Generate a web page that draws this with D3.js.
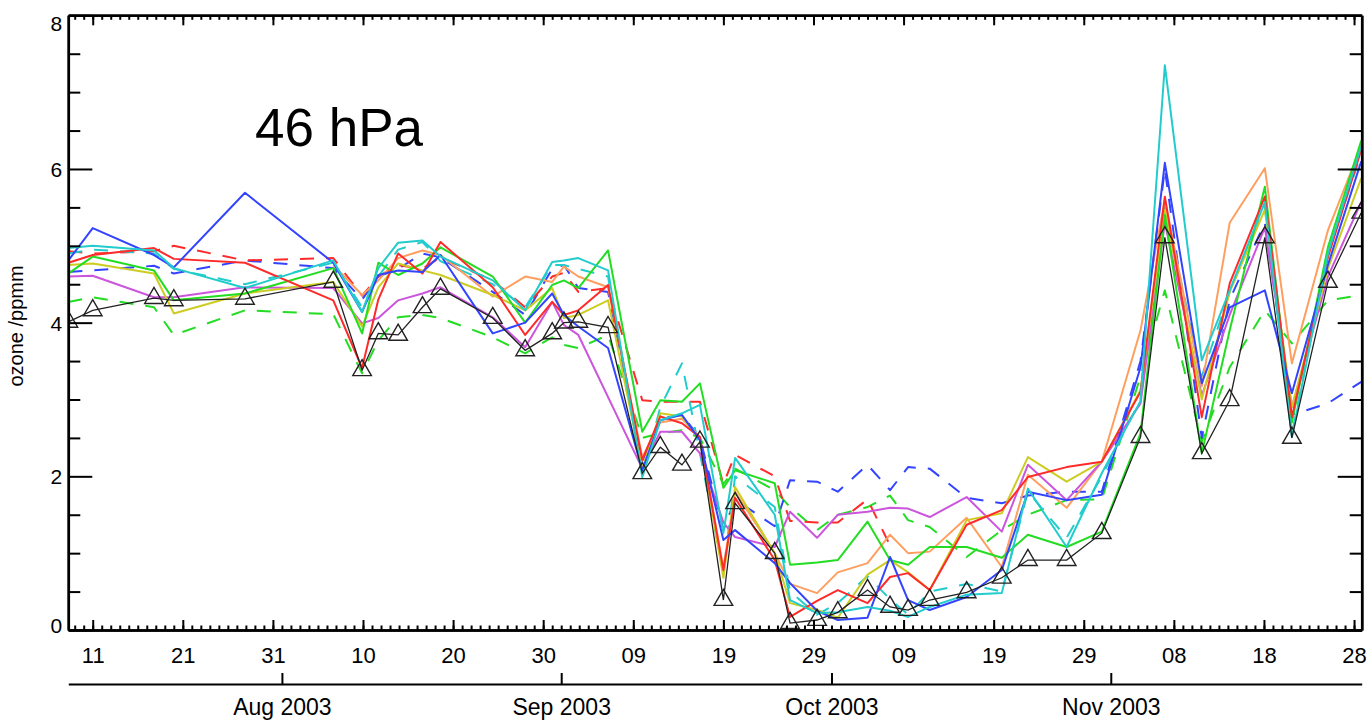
<!DOCTYPE html>
<html>
<head>
<meta charset="utf-8">
<script src="https://cdn.jsdelivr.net/npm/d3@7"></script>
<style>
  html, body { margin: 0; padding: 0; background: #fff; }
  svg { display: block; font-family: "Liberation Sans", Arial, Helvetica, sans-serif; }
</style>
</head>
<body>
<svg id="chart" width="1370" height="720"></svg>
<script>
// ---- data (day of year 2003, ozone in ppmm) ----
const days = [189.3, 192.0, 198.8, 201.0, 208.9, 218.7, 221.9, 223.7, 225.9, 228.6,
              230.6, 236.4, 240.0, 243.0, 244.3, 245.9, 249.2, 253.0, 255.0, 257.4,
              259.4, 262.0, 263.3, 267.7, 269.4, 272.4, 274.7, 278.0, 280.5, 282.5,
              284.9, 289.0, 292.9, 295.8, 300.1, 304.0, 308.3, 311.0, 315.1, 318.2,
              322.1, 325.1, 329.1, 332.8];

const sonde = [4.01, 4.16, 4.32, 4.29, 4.31, 4.53, 3.38, 3.86, 3.84, 4.20,
               4.44, 4.06, 3.64, 3.86, 4.00, 4.01, 3.94, 2.04, 2.38, 2.15,
               2.45, 0.39, 1.65, 1.00, 0.09, 0.13, 0.23, 0.52, 0.30, 0.26,
               0.39, 0.49, 0.68, 0.91, 0.91, 1.26, 2.51, 5.11, 2.30, 2.99,
               5.11, 2.50, 4.53, 5.43];

const redSolid = [4.78, 4.88, 4.97, 4.83, 4.78, 4.29, 3.41, 4.30, 4.90, 4.64,
                  5.05, 4.46, 3.84, 4.27, 4.10, 4.16, 4.49, 2.21, 2.78, 2.69,
                  2.51, 0.78, 1.72, 0.91, 0.17, 0.38, 0.52, 0.35, 0.69, 0.74,
                  0.52, 1.37, 1.56, 1.99, 2.12, 2.19, 3.10, 5.64, 2.77, 4.51,
                  5.64, 2.77, 4.85, 6.25];

const blueSolid = [4.81, 5.23, 4.88, 4.72, 5.69, 4.78, 4.14, 4.62, 4.68, 4.66,
                   4.88, 3.86, 4.00, 4.38, 4.10, 3.95, 3.67, 2.08, 2.73, 2.80,
                   2.47, 1.17, 1.30, 0.87, 0.61, 0.25, 0.13, 0.16, 0.95, 0.39,
                   0.26, 0.43, 0.78, 1.80, 1.69, 1.76, 3.42, 6.08, 3.21, 4.20,
                   4.42, 3.08, 4.75, 6.10];

const cyanSolid = [4.97, 5.00, 4.94, 4.71, 4.45, 4.81, 4.14, 4.71, 5.04, 5.07,
                   4.86, 4.55, 4.16, 4.79, 4.81, 4.84, 4.68, 1.99, 2.73, 2.82,
                   2.93, 1.26, 2.24, 1.50, 0.39, 0.22, 0.23, 0.30, 0.25, 0.17,
                   0.30, 0.46, 0.48, 1.84, 1.08, 2.04, 2.98, 7.35, 3.51, 4.42,
                   5.57, 2.51, 4.90, 6.30];

const greenSolid = [4.64, 4.86, 4.68, 4.29, 4.38, 4.71, 3.86, 4.78, 4.62, 4.77,
                    4.98, 4.60, 4.00, 4.49, 4.55, 4.45, 4.94, 2.58, 2.99, 2.97,
                    3.21, 1.85, 2.08, 1.91, 0.85, 0.88, 0.91, 1.41, 0.91, 0.85,
                    1.08, 1.08, 0.94, 1.24, 1.08, 1.28, 2.56, 5.40, 2.30, 3.90,
                    5.77, 2.70, 4.98, 6.37];

const yellowSolid = [4.75, 4.77, 4.64, 4.12, 4.38, 4.53, 3.95, 4.46, 4.77, 4.68,
                     4.62, 4.36, 4.16, 4.45, 4.06, 4.10, 4.29, 2.10, 2.82, 2.78,
                     2.47, 0.68, 1.86, 1.00, 0.35, 0.26, 0.16, 0.72, 0.91, 0.75,
                     0.52, 1.43, 1.52, 2.25, 1.93, 2.19, 3.12, 5.47, 3.00, 4.40,
                     5.47, 2.90, 4.70, 5.88];

const magentaSolid = [4.60, 4.61, 4.33, 4.33, 4.46, 4.45, 3.99, 4.06, 4.29, 4.38,
                      4.46, 4.07, 3.68, 4.27, 3.97, 3.84, null, 2.10, 2.58, 2.58,
                      2.30, 1.40, 1.21, 1.08, 1.54, 1.20, 1.50, 1.54, 1.59, 1.58,
                      1.47, 1.73, 1.28, 2.15, 1.69, 2.19, 2.95, 5.30, 3.05, 4.10,
                      5.24, 2.90, 4.60, 5.57];

const orangeSolid = [null, null, null, null, null, 4.75, 4.36, 4.55, 4.84, 4.94,
                     4.88, 4.34, 4.60, 4.53, 4.73, 4.60, 4.46, 2.25, 2.70, 2.75,
                     2.51, 0.80, 1.80, 1.00, 0.60, 0.48, 0.75, 0.87, 1.24, 1.00,
                     1.02, 1.46, 0.82, 2.02, 1.59, 2.19, 3.90, 5.60, 3.17, 5.30,
                     6.01, 3.47, 5.20, 6.30];

const greenDashed = [4.27, 4.33, 4.20, 3.84, 4.16, 4.11, 3.34, 3.77, 4.07, 4.10,
                     4.06, 3.81, 3.60, 3.81, 3.71, 3.67, 3.84, 2.50, 2.56, 2.60,
                     2.50, 1.90, 2.10, 1.82, 1.60, 1.30, 1.50, 1.60, 1.75, 1.43,
                     1.34, 0.95, 1.30, 1.50, 1.69, 1.70, 3.30, 4.42, 2.45, 3.42,
                     4.16, 3.73, 4.29, 4.36];

const blueDashed = [4.66, 4.68, 4.74, 4.64, 4.81, 4.71, 4.30, 4.60, 4.70, 4.90,
                    4.85, 4.40, 4.10, 4.70, 4.75, 4.45, 4.40, 2.20, 2.75, 2.80,
                    2.50, 1.30, 1.70, 1.35, 1.95, 1.93, 1.80, 2.15, 1.82, 2.12,
                    2.10, 1.72, 1.65, 1.75, 1.80, 1.80, 3.50, 6.00, 2.50, 4.30,
                    5.30, 2.80, 2.95, 3.23];

const redDashed = [4.93, 4.90, 4.93, 5.00, 4.81, 4.84, 4.35, 4.60, 4.75, 4.70,
                   4.85, 4.55, 4.20, 4.60, 4.65, 4.40, 4.45, 2.99, 2.97, 2.97,
                   2.97, 1.90, 2.28, 2.00, 1.42, 1.40, 1.40, 1.70, 1.10, null,
                   null, null, null, null, null, null, null, null, null, null,
                   null, null, null, null];

const cyanDashed = [4.90, 4.95, 4.90, 4.70, 4.50, 4.78, 4.20, 4.60, 4.95, 5.05,
                    4.80, 4.50, 4.20, 4.75, 4.75, 4.70, 4.60, 2.00, 2.90, 3.47,
                    2.30, 0.75, 2.00, 1.60, 0.50, 0.20, 0.35, 0.70, 0.40, 0.20,
                    0.50, 0.60, 0.50, 1.80, 1.20, 2.00, 3.00, 5.50, 3.30, 4.40,
                    5.50, 2.55, 4.90, 6.20];

const yTicks = [0, 2, 4, 6, 8];
const dayTicks = [192, 202, 212, 222, 232, 242, 252, 262, 272, 282, 292, 302, 312, 322, 332];
const monthTicks = [213, 244, 274, 305];
const monthLabels = ["Aug 2003", "Sep 2003", "Oct 2003", "Nov 2003"];
const panelLabel = "46 hPa";
const yTitle = "ozone /ppmm";

// ---- drawing ----
const svg = d3.select("#chart");
const L = 68.3, R = 1361.7, T = 15.3, B = 630;
const x = d3.scaleLinear().domain([189.29, 332.85]).range([L, R]);
const y = d3.scaleLinear().domain([0, 8]).range([B, T]);

const doyToDate = d => new Date(Date.UTC(2003, 0, 1) + (d - 1) * 864e5);
const fmtDay = d3.utcFormat("%d");

svg.append("rect").attr("width", 1370).attr("height", 720).attr("fill", "#fff");

const series = [
  { v: greenDashed, c: "#22dd22", dash: "14,12", w: 2 },
  { v: blueDashed, c: "#3344ff", dash: "14,12", w: 2 },
  { v: redDashed, c: "#ff2a2a", dash: "14,12", w: 2 },
  { v: cyanDashed, c: "#22cccc", dash: "14,12", w: 2 },
  { v: orangeSolid, c: "#ff9f5f", dash: null, w: 2 },
  { v: magentaSolid, c: "#cc55dd", dash: null, w: 2 },
  { v: yellowSolid, c: "#cccc22", dash: null, w: 2 },
  { v: greenSolid, c: "#22dd22", dash: null, w: 2 },
  { v: redSolid, c: "#ff2a2a", dash: null, w: 2 },
  { v: blueSolid, c: "#3344ff", dash: null, w: 2 },
  { v: cyanSolid, c: "#22cccc", dash: null, w: 2 }
];

svg.append("clipPath").attr("id", "plotclip")
  .append("rect").attr("x", L).attr("y", T).attr("width", R - L).attr("height", B - T);
svg.append("clipPath").attr("id", "markclip")
  .append("rect").attr("x", L).attr("y", T).attr("width", R - L).attr("height", B - T + 4);

const plot = svg.append("g").attr("clip-path", "url(#plotclip)");
const marks = svg.append("g").attr("clip-path", "url(#markclip)");
const line = d3.line().x(d => x(d[0])).y(d => y(d[1]));

series.forEach(s => {
  const pts = days.map((d, i) => [d, s.v[i]]).filter(p => p[1] != null);
  plot.append("path")
    .attr("d", line(pts))
    .attr("fill", "none")
    .attr("stroke", s.c)
    .attr("stroke-width", s.w)
    .attr("stroke-dasharray", s.dash)
    .attr("stroke-linejoin", "round");
});

const sondePts = days.map((d, i) => [d, sonde[i]]);
plot.append("path")
  .attr("d", line(sondePts))
  .attr("fill", "none").attr("stroke", "#222").attr("stroke-width", 1.3);
marks.selectAll("path.tri").data(sondePts).enter().append("path")
  .attr("class", "tri")
  .attr("d", d3.symbol(d3.symbolTriangle, 150)())
  .attr("transform", d => `translate(${x(d[0])},${y(d[1])})`)
  .attr("fill", "none").attr("stroke", "#222").attr("stroke-width", 1.4);

// ---- axes ----
function styleAxis(g, w) {
  g.selectAll(".domain").attr("stroke", "#000").attr("stroke-width", w);
  g.selectAll(".tick line").attr("stroke", "#000").attr("stroke-width", 2);
}
const allDays = d3.range(190, 333);
const halfSteps = d3.range(0, 8.01, 0.5).filter(v => v % 2 !== 0);

// bottom minor & major
svg.append("g").attr("transform", `translate(0,${B})`)
  .call(d3.axisBottom(x).tickValues(allDays).tickSizeInner(-4.5).tickSizeOuter(0).tickFormat(""))
  .call(g => styleAxis(g, 2.5));
const bx = svg.append("g").attr("transform", `translate(0,${B})`)
  .call(d3.axisBottom(x).tickValues(dayTicks).tickSizeInner(-10).tickSizeOuter(0).tickPadding(17)
    .tickFormat(d => fmtDay(doyToDate(d))))
  .call(g => styleAxis(g, 2.5));
bx.selectAll("text").attr("font-size", 22).attr("fill", "#000").attr("font-family", "Liberation Sans, Arial, sans-serif");

// top
svg.append("g").attr("transform", `translate(0,${T})`)
  .call(d3.axisTop(x).tickValues(allDays).tickSizeInner(-4.5).tickSizeOuter(0).tickFormat(""))
  .call(g => styleAxis(g, 2.5));
svg.append("g").attr("transform", `translate(0,${T})`)
  .call(d3.axisTop(x).tickValues(dayTicks).tickSizeInner(-10).tickSizeOuter(0).tickFormat(""))
  .call(g => styleAxis(g, 2.5));

// left
svg.append("g").attr("transform", `translate(${L},0)`)
  .call(d3.axisLeft(y).tickValues(halfSteps).tickSizeInner(-12).tickSizeOuter(0).tickFormat(""))
  .call(g => styleAxis(g, 2.5));
const ly = svg.append("g").attr("transform", `translate(${L},0)`)
  .call(d3.axisLeft(y).tickValues(yTicks).tickSizeInner(-24).tickSizeOuter(0).tickPadding(6).tickFormat(d3.format("d")))
  .call(g => styleAxis(g, 2.5));
ly.selectAll("text").attr("font-size", 21).attr("fill", "#000").attr("font-family", "Liberation Sans, Arial, sans-serif")
  .attr("dy", d => d === 8 ? "0.7em" : (d === 0 ? "0.1em" : "0.35em"));

// right
svg.append("g").attr("transform", `translate(${R},0)`)
  .call(d3.axisRight(y).tickValues(halfSteps).tickSizeInner(-12).tickSizeOuter(0).tickFormat(""))
  .call(g => styleAxis(g, 2.5));
svg.append("g").attr("transform", `translate(${R},0)`)
  .call(d3.axisRight(y).tickValues(yTicks).tickSizeInner(-24).tickSizeOuter(0).tickFormat(""))
  .call(g => styleAxis(g, 2.5));

// month axis
const mx = svg.append("g").attr("transform", "translate(0,684)")
  .call(d3.axisBottom(x).tickValues(monthTicks).tickSizeInner(-11).tickSizeOuter(0).tickPadding(15)
    .tickFormat((d, i) => monthLabels[i]))
  .call(g => styleAxis(g, 2.2));
mx.selectAll("text").attr("font-size", 23).attr("fill", "#000").attr("font-family", "Liberation Sans, Arial, sans-serif");

// y title
svg.append("text")
  .attr("transform", "translate(23,326) rotate(-90)")
  .attr("text-anchor", "middle")
  .attr("font-size", 20)
  .attr("fill", "#000")
  .text(yTitle);

// panel label
svg.append("text")
  .attr("x", 255).attr("y", 146)
  .attr("font-size", 53)
  .attr("fill", "#000")
  .text(panelLabel);
</script>
</body>
</html>
